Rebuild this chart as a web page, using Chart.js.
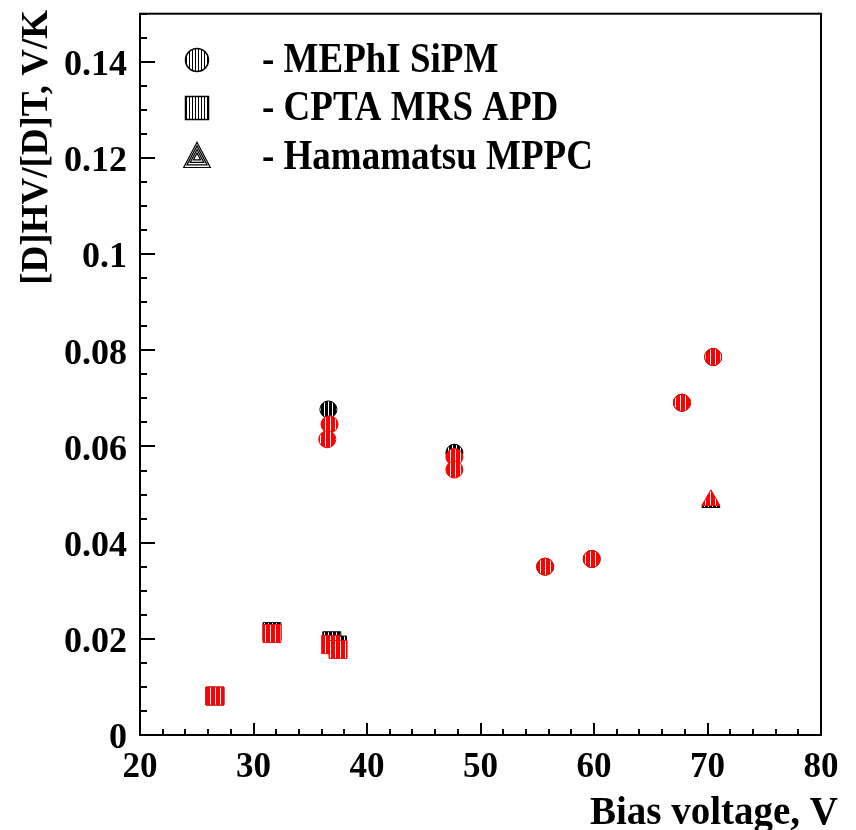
<!DOCTYPE html>
<html>
<head>
<meta charset="utf-8">
<script src="https://cdn.jsdelivr.net/npm/chart.js@4/dist/chart.umd.min.js"></script>
<style>
html,body{margin:0;padding:0;background:#fff;}
#wrap{width:856px;height:830px;position:relative;}
</style>
</head>
<body>
<div id="wrap"><canvas id="c"></canvas></div>
<script>
// ---- data ----
const seriesNames = ['MEPhI SiPM', 'CPTA MRS APD', 'Hamamatsu MPPC'];

const sipmBlackX = [36.6, 47.7, 55.7, 59.8, 67.75, 70.5];
const sipmBlackY = [0.0677, 0.0587, 0.0350, 0.0366, 0.0691, 0.0786];
const sipmRedX   = [36.7, 36.5, 47.7, 47.7, 55.7, 59.8, 67.75, 70.5];
const sipmRedY   = [0.0646, 0.0615, 0.0578, 0.0552, 0.0350, 0.0366, 0.0691, 0.0786];

const cptaBlackX = [26.6, 31.63, 36.9, 37.4];
const cptaBlackY = [0.0081, 0.0215, 0.0196, 0.0187];
const cptaRedX   = [26.6, 31.63, 36.8, 37.45];
const cptaRedY   = [0.0081, 0.0211, 0.0188, 0.0178];

const mppcBlackX = [70.3];
const mppcBlackY = [0.0484];
const mppcRedX   = [70.3];
const mppcRedY   = [0.0488];

const xTicks = [20, 30, 40, 50, 60, 70, 80];
const xTickLabels = ['20', '30', '40', '50', '60', '70', '80'];
const yTicks = [0, 0.02, 0.04, 0.06, 0.08, 0.10, 0.12, 0.14];
const yTickLabels = ['0', '0.02', '0.04', '0.06', '0.08', '0.1', '0.12', '0.14'];

const xTitle = 'Bias voltage, V';
const yTitle = '[D]HV/[D]T, V/K';

// ---- helpers ----
function zip(xs, ys) { return xs.map((x, i) => ({x: x, y: ys[i]})); }
function stripes(bg, fg, period, lw) {
  const c = document.createElement('canvas');
  c.width = period; c.height = period;
  const g = c.getContext('2d');
  g.fillStyle = bg; g.fillRect(0, 0, period, period);
  g.fillStyle = fg; g.fillRect(0, 0, lw, period);
  return g.createPattern(c, 'repeat');
}
const redFill = stripes('#ff0000', '#ffffff', 5, 1);
const blackFill = stripes('#000000', '#ffffff', 4, 1);
const legendFill = stripes('#ffffff', '#000000', 3, 1);

const SERIF = '"Liberation Serif", "DejaVu Serif", serif';

function ds(label, data, style, radius, fill, border, order) {
  return {
    label: label, data: data, showLine: false, order: order,
    pointStyle: style, pointRadius: radius, pointHoverRadius: radius,
    pointBackgroundColor: fill, pointBorderColor: border, pointBorderWidth: 1,
    backgroundColor: fill, borderColor: border
  };
}

function stretchedText(ctx, text, x, y, sy) {
  ctx.save();
  ctx.translate(x, y);
  ctx.scale(1, sy);
  ctx.fillText(text, 0, 0);
  ctx.restore();
}

const frameAndDecor = {
  id: 'frameAndDecor',
  afterDraw(chart) {
    const ctx = chart.ctx;
    const a = chart.chartArea;
    const xs = chart.scales.x, ys = chart.scales.y;
    ctx.save();
    // frame
    ctx.strokeStyle = '#000';
    ctx.lineWidth = 2;
    ctx.strokeRect(a.left, a.top, a.right - a.left, a.bottom - a.top);
    // x ticks (inside, from bottom)
    ctx.beginPath();
    for (let v = 20; v <= 80; v += 2) {
      const px = Math.round(xs.getPixelForValue(v));
      const len = (v % 10 === 0) ? 12 : 6;
      ctx.moveTo(px, a.bottom);
      ctx.lineTo(px, a.bottom - len);
    }
    // y ticks (inside, from left)
    for (let k = 0; k <= 30; k++) {
      const v = k * 0.005;
      const py = Math.round(ys.getPixelForValue(v));
      const len = (k % 4 === 0) ? 15 : 7;
      ctx.moveTo(a.left, py);
      ctx.lineTo(a.left + len, py);
    }
    ctx.stroke();

    // axis titles
    ctx.fillStyle = '#000';
    ctx.font = 'bold 39px ' + SERIF;
    ctx.textBaseline = 'alphabetic';
    ctx.textAlign = 'right';
    ctx.fillText(xTitle, 838, 824);
    ctx.save();
    ctx.font = 'bold 37px ' + SERIF;
    ctx.translate(47, 10);
    ctx.rotate(-Math.PI / 2);
    ctx.textAlign = 'right';
    ctx.fillText(yTitle, 0, 0);
    ctx.restore();

    // legend
    const rows = [60, 108, 157];
    const mx = 197;
    ctx.font = 'bold 37px ' + SERIF;
    ctx.textAlign = 'left';
    ctx.textBaseline = 'middle';
    rows.forEach((ry, i) => {
      ctx.fillStyle = legendFill;
      ctx.strokeStyle = '#000';
      ctx.lineWidth = 1.5;
      ctx.beginPath();
      if (i === 0) {
        ctx.arc(mx, ry, 11.5, 0, Math.PI * 2);
        ctx.fill(); ctx.stroke();
      } else if (i === 1) {
        ctx.rect(mx - 11.5, ry - 11.5, 23, 23);
        ctx.fill(); ctx.stroke();
      } else {
        ctx.lineWidth = 1.2;
        for (let s = 0; s < 4; s++) {
          const r = 14 - s * 3.4;
          ctx.beginPath();
          ctx.moveTo(mx, ry - r * 1.05);
          ctx.lineTo(mx + r * 0.95, ry + r * 0.75);
          ctx.lineTo(mx - r * 0.95, ry + r * 0.75);
          ctx.closePath();
          ctx.stroke();
        }
      }
      ctx.fillStyle = '#000';
      stretchedText(ctx, '- ' + seriesNames[i], 262, ry + 1, 1.12);
    });
    ctx.restore();
  }
};

new Chart(document.getElementById('c'), {
  type: 'scatter',
  data: {
    datasets: [
      ds(seriesNames[0], zip(sipmBlackX, sipmBlackY), 'circle', 8.5, blackFill, '#000', 3),
      ds(seriesNames[1], zip(cptaBlackX, cptaBlackY), 'rect', 12.7, blackFill, '#000', 3),
      ds(seriesNames[2], zip(mppcBlackX, mppcBlackY), 'triangle', 10.5, blackFill, '#000', 3),
      ds(seriesNames[0], zip(sipmRedX, sipmRedY), 'circle', 8.5, redFill, '#ff0000', 1),
      ds(seriesNames[1], zip(cptaRedX, cptaRedY), 'rect', 12.7, redFill, '#ff0000', 1),
      ds(seriesNames[2], zip(mppcRedX, mppcRedY), 'triangle', 10.5, redFill, '#ff0000', 1)
    ]
  },
  options: {
    responsive: true,
    maintainAspectRatio: false,
    animation: false,
    layout: { padding: { left: 0, top: 10, right: 35, bottom: 0 } },
    plugins: { legend: { display: false }, tooltip: { enabled: false } },
    scales: {
      x: {
        type: 'linear', min: 20, max: 80,
        grid: { display: false, drawTicks: false },
        border: { display: false },
        afterFit(s) { s.height = 95; s.paddingLeft = 0; s.paddingRight = 0; },
        afterBuildTicks(s) { s.ticks = xTicks.map(v => ({value: v})); },
        ticks: {
          autoSkip: false, maxRotation: 0, padding: 12,
          color: '#000', font: { family: SERIF, size: 35, weight: 'bold' },
          callback: (v) => { const i = xTicks.indexOf(v); return i >= 0 ? xTickLabels[i] : ''; }
        }
      },
      y: {
        type: 'linear', min: 0, max: 0.15,
        grid: { display: false, drawTicks: false },
        border: { display: false },
        afterFit(s) { s.width = 140; s.paddingTop = 0; s.paddingBottom = 0; },
        afterBuildTicks(s) { s.ticks = yTicks.map(v => ({value: v})); },
        ticks: {
          autoSkip: false, padding: 13, labelOffset: 4,
          color: '#000', font: { family: SERIF, size: 36, weight: 'bold' },
          callback: (v) => {
            const i = yTicks.findIndex(t => Math.abs(t - v) < 1e-9);
            return i >= 0 ? yTickLabels[i] : '';
          }
        }
      }
    }
  },
  plugins: [frameAndDecor]
});
</script>
</body>
</html>
